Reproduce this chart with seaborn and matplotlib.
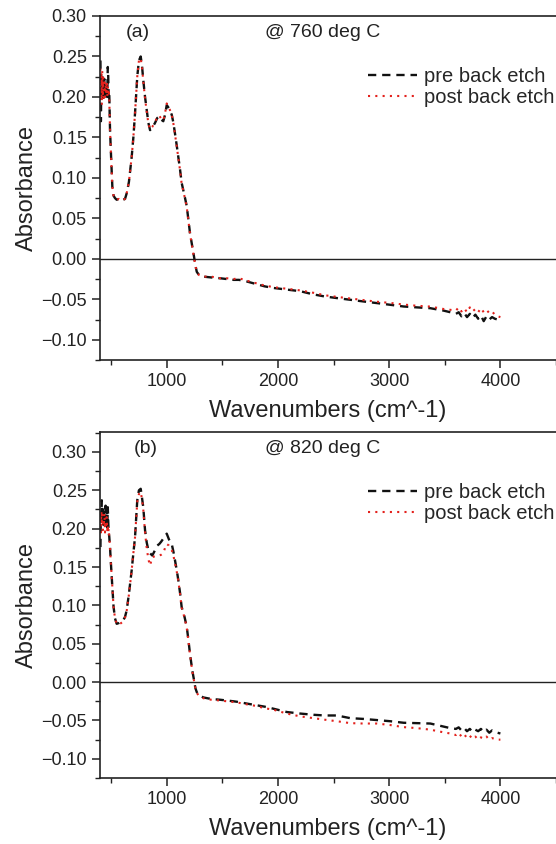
import numpy as np
import matplotlib
matplotlib.use("Agg")
import matplotlib.pyplot as plt
from matplotlib.ticker import MultipleLocator
import seaborn as sns

# Wavenumber grid shared by all four spectra (cm^-1)
wavenumber = [
    404, 408, 412, 416, 420, 425, 430, 435, 440,
    445, 450, 455, 460, 465, 470, 474, 478, 483,
    490, 500, 511, 522, 535, 550, 570, 590, 607, 625,
    640, 660, 685, 700, 715, 735, 750, 766, 778, 789,
    805, 820, 835, 850, 870, 895, 915, 933, 950, 969,
    985, 1000, 1020, 1045, 1060, 1074, 1090, 1104, 1120, 1134,
    1160, 1180, 1195, 1209, 1230, 1245, 1258, 1270, 1290, 1329,
    1400, 1480, 1540, 1600, 1650, 1720, 1800, 1880, 1960, 2080,
    2200, 2320, 2420, 2530, 2650, 2770, 2890, 3010, 3130, 3250,
    3370, 3490, 3550, 3600, 3625, 3650, 3675, 3700, 3725, 3750,
    3775, 3800, 3825, 3850, 3875, 3900, 3925, 3950, 3975, 4000,
]

# (a) 760 deg C
a_pre = [
    0.245, 0.170, 0.215, 0.200, 0.225, 0.195, 0.215, 0.205, 0.222,
    0.198, 0.210, 0.205, 0.215, 0.200, 0.237, 0.225, 0.200, 0.205,
    0.160, 0.125, 0.089, 0.078, 0.075, 0.073, 0.074, 0.072, 0.073, 0.074,
    0.081, 0.095, 0.126, 0.150, 0.180, 0.225, 0.245, 0.250, 0.238, 0.221,
    0.200, 0.184, 0.168, 0.159, 0.162, 0.168, 0.174, 0.176, 0.172, 0.170,
    0.178, 0.190, 0.186, 0.178, 0.168, 0.155, 0.140, 0.126, 0.110, 0.094,
    0.078, 0.065, 0.048, 0.032, 0.015, 0.003, -0.008, -0.016, -0.020, -0.022,
    -0.023, -0.024, -0.025, -0.026, -0.026, -0.028, -0.031, -0.034, -0.036, -0.038,
    -0.040, -0.044, -0.0465, -0.0485, -0.0506, -0.0527, -0.0547, -0.0568, -0.0589, -0.060,
    -0.061, -0.064, -0.066, -0.068, -0.066, -0.071, -0.067, -0.072, -0.068, -0.073,
    -0.069, -0.074, -0.070, -0.077, -0.071, -0.075, -0.072, -0.074, -0.075, -0.076,
]
a_post = [
    0.235, 0.195, 0.228, 0.190, 0.232, 0.200, 0.225, 0.195, 0.218,
    0.200, 0.215, 0.205, 0.220, 0.200, 0.212, 0.205, 0.210, 0.198,
    0.160, 0.125, 0.089, 0.078, 0.075, 0.073, 0.074, 0.072, 0.073, 0.074,
    0.081, 0.095, 0.126, 0.150, 0.180, 0.225, 0.245, 0.248, 0.236, 0.220,
    0.198, 0.182, 0.167, 0.160, 0.163, 0.169, 0.175, 0.177, 0.173, 0.171,
    0.180, 0.192, 0.187, 0.178, 0.167, 0.154, 0.139, 0.125, 0.109, 0.093,
    0.077, 0.064, 0.047, 0.031, 0.014, 0.002, -0.009, -0.016, -0.020, -0.022,
    -0.022, -0.024, -0.024, -0.025, -0.024, -0.027, -0.030, -0.033, -0.035, -0.037,
    -0.039, -0.042, -0.045, -0.047, -0.049, -0.051, -0.053, -0.0545, -0.0565, -0.058,
    -0.059, -0.062, -0.063, -0.064, -0.060, -0.065, -0.061, -0.066, -0.060, -0.065,
    -0.062, -0.066, -0.061, -0.066, -0.063, -0.067, -0.065, -0.069, -0.071, -0.072,
]

# (b) 820 deg C
b_pre = [
    0.176, 0.225, 0.205, 0.237, 0.210, 0.228, 0.205, 0.222, 0.215,
    0.205, 0.230, 0.210, 0.225, 0.200, 0.228, 0.210, 0.195, 0.190,
    0.176, 0.150, 0.124, 0.098, 0.083, 0.076, 0.077, 0.079, 0.080, 0.085,
    0.0935, 0.115, 0.146, 0.168, 0.189, 0.237, 0.250, 0.252, 0.240, 0.228,
    0.198, 0.182, 0.172, 0.168, 0.165, 0.172, 0.178, 0.180, 0.183, 0.187,
    0.190, 0.1935, 0.186, 0.180, 0.170, 0.159, 0.146, 0.133, 0.116, 0.098,
    0.085, 0.072, 0.055, 0.037, 0.015, 0.003, -0.008, -0.013, -0.017, -0.020,
    -0.022, -0.023, -0.024, -0.025, -0.026, -0.028, -0.030, -0.032, -0.0347, -0.039,
    -0.041, -0.0426, -0.0435, -0.0435, -0.047, -0.048, -0.0495, -0.051, -0.053, -0.0535,
    -0.054, -0.058, -0.060, -0.061, -0.059, -0.063, -0.060, -0.064, -0.061, -0.065,
    -0.062, -0.064, -0.061, -0.065, -0.062, -0.066, -0.063, -0.065, -0.066, -0.067,
]
b_post = [
    0.215, 0.195, 0.222, 0.205, 0.218, 0.198, 0.212, 0.208, 0.220,
    0.195, 0.210, 0.200, 0.215, 0.198, 0.205, 0.195, 0.200, 0.190,
    0.176, 0.150, 0.124, 0.098, 0.083, 0.076, 0.075, 0.077, 0.079, 0.084,
    0.093, 0.114, 0.146, 0.168, 0.189, 0.235, 0.245, 0.248, 0.238, 0.225,
    0.195, 0.175, 0.160, 0.152, 0.163, 0.164, 0.164, 0.165, 0.166, 0.168,
    0.175, 0.180, 0.178, 0.172, 0.165, 0.155, 0.144, 0.132, 0.115, 0.097,
    0.084, 0.071, 0.054, 0.036, 0.014, 0.002, -0.009, -0.014, -0.018, -0.021,
    -0.023, -0.024, -0.025, -0.026, -0.027, -0.029, -0.031, -0.034, -0.036, -0.041,
    -0.0447, -0.047, -0.049, -0.051, -0.0535, -0.054, -0.054, -0.056, -0.0587, -0.060,
    -0.062, -0.0655, -0.067, -0.069, -0.066, -0.071, -0.068, -0.073, -0.070, -0.074,
    -0.071, -0.075, -0.072, -0.074, -0.071, -0.075, -0.073, -0.074, -0.075, -0.075,
]

panels = [
    ("(a)", "@ 760 deg C", a_pre, a_post, (-0.125, 0.30)),
    ("(b)", "@ 820 deg C", b_pre, b_post, (-0.125, 0.326)),
]

sns.set_theme(style="ticks")
plt.rcParams["font.family"] = ["Liberation Sans", "DejaVu Sans"]

W, H = 556, 844
fig = plt.figure(figsize=(W / 100, H / 100), dpi=100)

# axes boxes in pixels: (left, top, right, bottom)
boxes = [(100, 16, 556, 360), (100, 432, 556, 778)]

for (tag, temp, pre, post, ylim), (l, t, r, b) in zip(panels, boxes):
    ax = fig.add_axes([l / W, 1 - b / H, (r - l) / W, (b - t) / H])

    sns.lineplot(x=wavenumber, y=pre, ax=ax, color="#111111", lw=1.7,
                 linestyle=(0, (3.5, 2.5)), label="pre back etch",
                 estimator=None)
    sns.lineplot(x=wavenumber, y=post, ax=ax, color="#e3211c", lw=1.5,
                 linestyle=(0, (1, 2.5)), label="post back etch",
                 estimator=None)

    ax.axhline(0, color="#222222", lw=1.0, zorder=0)

    ax.set_xlim(400, 4500)
    ax.set_ylim(*ylim)
    ax.xaxis.set_major_locator(MultipleLocator(1000))
    ax.xaxis.set_minor_locator(MultipleLocator(500))
    ax.yaxis.set_major_locator(MultipleLocator(0.05))
    ax.yaxis.set_minor_locator(MultipleLocator(0.025))
    ax.yaxis.set_major_formatter(plt.FuncFormatter(
        lambda v, p: f"{v:.2f}".replace("-", "\u2212")))

    ax.tick_params(which="major", direction="out", length=6, width=1.1,
                   labelsize=13, colors="#222222", labelcolor="#222222")
    ax.tick_params(which="minor", direction="out", length=3.5, width=1.0,
                   colors="#222222")

    for side in ["left", "top", "bottom"]:
        ax.spines[side].set_color("#222222")
        ax.spines[side].set_linewidth(1.2)
    ax.spines["right"].set_visible(False)

    ax.set_xlabel("Wavenumbers (cm^-1)", fontsize=17, color="#222222", labelpad=7)
    ax.set_ylabel("Absorbance", fontsize=17, color="#222222")
    ax.yaxis.set_label_coords(-0.137, 0.5)

    ax.text(0.083 if tag == "(a)" else 0.101, 0.951, tag, transform=ax.transAxes,
            ha="center", va="center", fontsize=14, color="#222222")
    ax.text(0.362, 0.951, temp, transform=ax.transAxes,
            ha="left", va="center", fontsize=14, color="#222222")

    ax.legend(loc="upper right", bbox_to_anchor=(1.0, 0.858), frameon=False,
              fontsize=14.5, handlelength=2.4, handletextpad=0.35,
              labelspacing=0.1, borderaxespad=0, borderpad=0.1)

fig.savefig("out.png", dpi=100)
